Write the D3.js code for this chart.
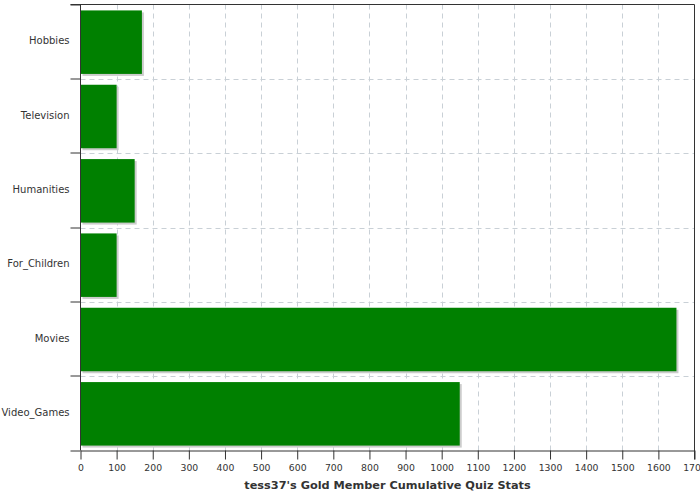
<!DOCTYPE html>
<html><head><meta charset="utf-8">
<script src="https://cdn.jsdelivr.net/npm/d3@7"></script>
<style>body{margin:0;background:#fff}svg{display:block}</style>
</head><body>
<script>
const categories = ["Hobbies","Television","Humanities","For_Children","Movies","Video_Games"];
const values = [170,100,150,100,1650,1050];
const xTicks = d3.range(0,1701,100);
const title = "tess37's Gold Member Cumulative Quiz Stats";

const W=700,H=500;
const m={left:80.5,right:5.5,top:4.5,bottom:49.5};
const svg=d3.select("body").append("svg").attr("width",W).attr("height",H);
const x=d3.scaleLinear().domain([0,1700]).range([m.left,W-m.right]);
const font="DejaVu Sans";
const grid="#c9d0d6";

// vertical gridlines
svg.append("g").selectAll("line").data(xTicks.slice(1,-1)).join("line")
 .attr("x1",d=>Math.round(x(d))+0.5).attr("x2",d=>Math.round(x(d))+0.5)
 .attr("y1",m.top).attr("y2",H-m.bottom)
 .attr("stroke",grid).attr("stroke-dasharray","5,4");
// band boundaries
const step=(H-m.bottom-m.top)/categories.length;
const bounds=d3.range(0,categories.length+1).map(i=>m.top+i*step);
svg.append("g").selectAll("line").data(bounds.slice(1,-1)).join("line")
 .attr("x1",m.left).attr("x2",W-m.right)
 .attr("y1",d=>Math.round(d)+0.5).attr("y2",d=>Math.round(d)+0.5)
 .attr("stroke",grid).attr("stroke-dasharray","5,4");

const yb=d3.scaleBand().domain(categories).range([m.top,H-m.bottom]);
const bh=63.5;
const data=categories.map((c,i)=>({c,v:values[i]}));
// shadows
svg.append("g").selectAll("rect").data(data).join("rect")
 .attr("x",x(0)+2).attr("y",d=>yb(d.c)+(yb.bandwidth()-bh)/2+0.5+2)
 .attr("width",d=>x(d.v)-x(0)).attr("height",bh).attr("fill","#cccccc");
svg.append("g").selectAll("rect").data(data).join("rect")
 .attr("x",x(0)).attr("y",d=>yb(d.c)+(yb.bandwidth()-bh)/2+0.5)
 .attr("width",d=>x(d.v)-x(0)).attr("height",bh).attr("fill","#008000");

// frame
svg.append("line").attr("x1",m.left-10).attr("x2",W-m.right).attr("y1",m.top).attr("y2",m.top).attr("stroke","#333");
svg.append("line").attr("x1",W-m.right).attr("x2",W-m.right).attr("y1",m.top).attr("y2",H-m.bottom+9).attr("stroke","#333");

// bottom axis
const xa=svg.append("g").attr("transform",`translate(0,${H-m.bottom})`)
 .call(d3.axisBottom(x).tickValues(xTicks).tickSize(9).tickSizeOuter(0).tickFormat(d3.format("d")));
xa.select(".domain").attr("stroke","#333");
xa.selectAll(".tick line").attr("stroke","#333");
xa.selectAll("text").attr("font-family",font).attr("font-size",9.3).attr("fill","#333").attr("dy","0.3em").attr("y",17.5);

// left axis
svg.append("line").attr("x1",m.left).attr("x2",m.left).attr("y1",m.top).attr("y2",H-m.bottom).attr("stroke","#333");
svg.append("g").selectAll("line").data(bounds).join("line")
 .attr("x1",m.left-10).attr("x2",m.left).attr("y1",d=>Math.round(d)).attr("y2",d=>Math.round(d)).attr("stroke","#333");
svg.append("g").selectAll("text").data(categories).join("text")
 .attr("x",m.left-11).attr("y",d=>yb(d)+yb.bandwidth()/2).attr("dy","0.25em")
 .attr("text-anchor","end").attr("font-family",font).attr("font-size",10).attr("fill","#333").text(d=>d);

svg.append("text").attr("x",(m.left+W-m.right)/2).attr("y",488.5)
 .attr("text-anchor","middle").attr("font-family",font).attr("font-weight","bold").attr("font-size",11.3).attr("fill","#333").text(title);
</script>
</body></html>
